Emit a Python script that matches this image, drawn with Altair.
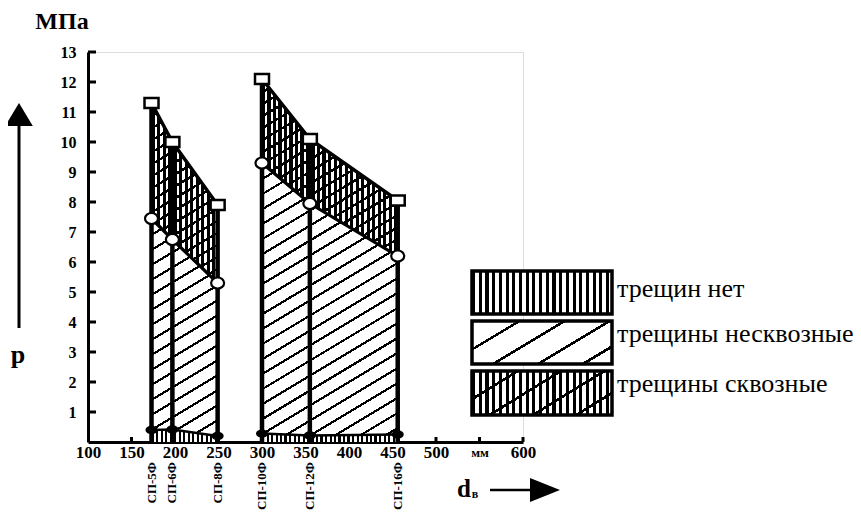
import altair as alt
import pandas as pd

# ---------------- data ----------------
labels = ["СП-5Ф", "СП-6Ф", "СП-8Ф", "СП-10Ф", "СП-12Ф", "СП-16Ф"]
d_mm = [173, 197, 249, 300, 355, 456]          # inner diameter, mm
group = ["a", "a", "a", "b", "b", "b"]
p_top = [11.3, 10.0, 7.9, 12.1, 10.1, 8.05]    # squares
p_mid = [7.45, 6.75, 5.3, 9.3, 7.95, 6.2]      # open circles
p_low = [0.4, 0.42, 0.2, 0.28, 0.22, 0.25]     # filled dots
y_ticks = list(range(1, 14))
x_ticks = list(range(100, 601, 50))
legend_items = ["трещин нет", "трещины несквозные", "трещины сквозные"]

SERIF = "Liberation Serif, Times New Roman, DejaVu Serif, serif"
W, H = 435, 390
XDOM = [100, 600]
YDOM = [0, 13]
PXX = W / (XDOM[1] - XDOM[0])
PXY = H / (YDOM[1] - YDOM[0])

df = pd.DataFrame(dict(label=labels, d=d_mm, g=group, top=p_top, mid=p_mid, low=p_low))
one = pd.DataFrame({"k": [0]})

xs = alt.Scale(domain=XDOM, nice=False, zero=False)
ys = alt.Scale(domain=YDOM, nice=False, zero=False)

AXX = alt.Axis(values=x_ticks, title=None, ticks=False, grid=False,
               domainColor="black", domainWidth=3,
               labelFont=SERIF, labelFontWeight="bold",
               labelFontSize={"condition": {"test": "datum.value == 550", "value": 13}, "value": 17},
               labelColor="black", labelPadding=10, labelBaseline="middle",
               labelExpr="datum.value == 550 ? 'мм' : datum.label",
               labelFlush=False, labelOverlap=False)
AXY = alt.Axis(values=y_ticks, title=None, ticks=False, grid=False,
               domainColor="black", domainWidth=3,
               labelFont=SERIF, labelFontWeight="bold", labelFontSize=16,
               labelColor="black", labelPadding=12, labelOverlap=False)


def xe(f):
    return alt.X(f"{f}:Q", scale=xs, axis=AXX)


def ye(f):
    return alt.Y(f"{f}:Q", scale=ys, axis=AXY)


def y2e(f):
    return alt.Y2(f"{f}:Q")


def stripes(length, period, black, gap):
    stops = []
    a = -period
    while a < length + period:
        for off, c in ((a, "black"), (a + black, "black"), (a + black, gap), (a + period, gap)):
            o = min(max(off / length, 0.0), 1.0)
            stops.append(alt.GradientStop(offset=round(o, 5), color=c))
        a += period
    return stops


def vgrad(w, period, black, gap="white"):
    return alt.LinearGradient(gradient="linear", stops=stripes(w, period, black, gap),
                              x1=0, y1=0, x2=1, y2=0)


def dgrad(w, h, s, period, black, gap="white"):
    L = h + s * w
    gx = s * w / h
    k = (gx + 1) / (gx * gx + 1)
    return alt.LinearGradient(gradient="linear", stops=stripes(L, period, black, gap),
                              x1=0, y1=0, x2=k * gx, y2=k)


SLOPE = 0.6
layers = []

# x-axis small ticks (inside)
layers.append(alt.Chart(pd.DataFrame({"t": x_ticks[1:]})).mark_rule(color="black", strokeWidth=3)
              .encode(x=xe("t"), y=alt.value(H), y2=alt.value(H - 5)))

# hatched regions
for g in ["a", "b"]:
    sub = df[df.g == g]
    base = alt.Chart(sub)
    w = (sub.d.max() - sub.d.min()) * PXX
    # no cracks (bottom)
    layers.append(base.mark_area(fill=vgrad(w, 4.5, 2.2)).encode(
        x=xe("d"), y=ye("low"), y2=alt.datum(0)))
    # non-through cracks (middle)
    hm = (sub.mid.max() - sub.low.min()) * PXY
    layers.append(base.mark_area(fill=dgrad(w, hm, SLOPE, 15, 2.6)).encode(
        x=xe("d"), y=ye("mid"), y2=y2e("low")))
    # through cracks (top)
    ht = (sub.top.max() - sub.mid.min()) * PXY
    layers.append(base.mark_area(fill=vgrad(w, 5.5, 3.2)).encode(
        x=xe("d"), y=ye("top"), y2=y2e("mid")))
    layers.append(base.mark_area(fill=dgrad(w, ht, SLOPE, 12, 2.8, "transparent")).encode(
        x=xe("d"), y=ye("top"), y2=y2e("mid")))

# vertical bars
layers.append(alt.Chart(df).mark_rule(color="black", strokeWidth=4.5).encode(
    x=xe("d"), y=ye("top"), y2=alt.datum(0)))

# boundary lines
for f, sw in (("top", 3.5), ("mid", 3.2), ("low", 2.5)):
    layers.append(alt.Chart(df).mark_line(color="black", strokeWidth=sw).encode(
        x=xe("d"), y=ye(f), detail="g:N"))

# markers
RECT = "M-1,-0.7H1V0.7H-1Z"
ELL_O = "M-1,0A1,0.85,0,1,0,1,0A1,0.85,0,1,0,-1,0Z"
ELL_F = "M-1,0A1,0.7,0,1,0,1,0A1,0.7,0,1,0,-1,0Z"
layers.append(alt.Chart(df).mark_point(shape=RECT, size=196, filled=True, fill="white",
                                       stroke="black", strokeWidth=2.5, opacity=1)
              .encode(x=xe("d"), y=ye("top")))
layers.append(alt.Chart(df).mark_point(shape=ELL_O, size=169, filled=True, fill="white",
                                       stroke="black", strokeWidth=2.2, opacity=1)
              .encode(x=xe("d"), y=ye("mid")))
layers.append(alt.Chart(df).mark_point(shape=ELL_F, size=144, filled=True, fill="black",
                                       opacity=1)
              .encode(x=xe("d"), y=ye("low")))

# y-axis ticks (inside)
layers.append(alt.Chart(pd.DataFrame({"t": y_ticks})).mark_rule(color="black", strokeWidth=3)
              .encode(y=ye("t"), x=alt.value(0), x2=alt.value(8)))

# rotated specimen labels
layers.append(alt.Chart(df).mark_text(angle=270, align="right", baseline="middle", font=SERIF,
                                      fontSize=13, fontWeight="bold", color="black", dx=-3)
              .encode(x=xe("d"), y=alt.value(H + 17), text="label:N"))


def txt(s, x, y, size, weight="bold", align="center", baseline="middle"):
    return alt.Chart(one).mark_text(text=s, font=SERIF, fontSize=size, fontWeight=weight,
                                    align=align, baseline=baseline, color="black").encode(
        x=alt.value(x), y=alt.value(y))


# axis titles and arrows
layers.append(txt("МПа", -26, -30, 24))
layers.append(txt("р", -70, 303, 26))
layers.append(alt.Chart(one).mark_rule(color="black", strokeWidth=3).encode(
    x=alt.value(-69), y=alt.value(276), y2=alt.value(68)))
layers.append(alt.Chart(one).mark_point(shape="M0,-1L1.2,1L-1.2,1Z", size=529, filled=True,
                                        fill="black", opacity=1)
              .encode(x=alt.value(-69), y=alt.value(62.5)))
layers.append(txt("d", 376, 445, 25, baseline="alphabetic"))
layers.append(txt("в", 387, 446, 12, baseline="alphabetic"))
layers.append(alt.Chart(one).mark_rule(color="black", strokeWidth=2.5).encode(
    x=alt.value(402), x2=alt.value(446), y=alt.value(438)))
layers.append(alt.Chart(one).mark_point(shape="M1,0L-1,-0.8L-1,0.8Z", size=900, filled=True,
                                        fill="black", opacity=1)
              .encode(x=alt.value(457), y=alt.value(438)))

# custom legend
LX1, LX2 = 384, 524
box_y = [(219, 262), (269, 312), (319, 363)]
lw, lh = LX2 - LX1, 43
fills = [
    [vgrad(lw, 6.7, 3.2)],
    [dgrad(lw, lh, SLOPE, 27, 3.0)],
    [vgrad(lw, 6.7, 3.2), dgrad(lw, lh, SLOPE, 26, 3.0, "transparent")],
]
text_base = [245, 290, 340]
for (y1, y2), fl, name, tb in zip(box_y, fills, legend_items, text_base):
    for f in fl:
        layers.append(alt.Chart(one).mark_rect(fill=f).encode(
            x=alt.value(LX1), x2=alt.value(LX2), y=alt.value(y1), y2=alt.value(y2)))
    layers.append(alt.Chart(one).mark_rect(fill="white", fillOpacity=0, stroke="black",
                                           strokeWidth=3.5).encode(
        x=alt.value(LX1), x2=alt.value(LX2), y=alt.value(y1), y2=alt.value(y2)))
    layers.append(txt(name, 529, tb, 26, weight="normal", align="left", baseline="alphabetic"))

chart = alt.layer(*layers).properties(
    width=W, height=H,
    padding={"left": 80, "top": 44, "right": 330, "bottom": 72},
    autosize=alt.AutoSizeParams(type="none"),
).configure_view(stroke=None).configure(font=SERIF)

chart.save("out.html", embed_options={"renderer": "svg", "actions": False})
